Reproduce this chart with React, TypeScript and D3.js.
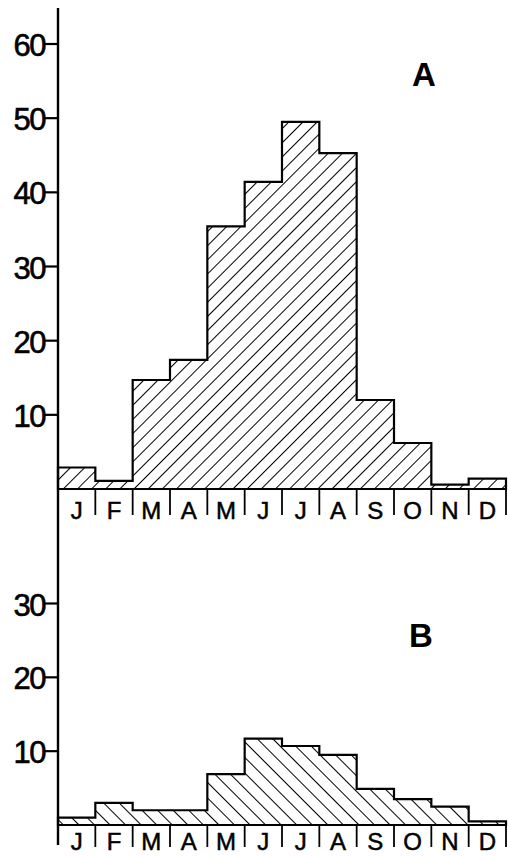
import React from "react";
import * as d3 from "d3";

const months = ["J", "F", "M", "A", "M", "J", "J", "A", "S", "O", "N", "D"];
const valuesA = [2.9, 1.1, 14.7, 17.4, 35.4, 41.4, 49.5, 45.3, 12.0, 6.2, 0.6, 1.4];
const valuesB = [1.0, 3.0, 2.0, 2.0, 6.9, 11.7, 10.7, 9.5, 4.9, 3.5, 2.5, 0.5];
const ticksA = [10, 20, 30, 40, 50, 60];
const ticksB = [10, 20, 30];

const W = 508;
const H = 857;
const X0 = 58;
const X1 = 506;
const FONT = "'Liberation Sans', Arial, Helvetica, sans-serif";

type PanelProps = {
  values: number[];
  ticks: number[];
  domainMax: number;
  yBase: number;
  yTop: number;
  pattern: string;
  label: string;
  labelX: number;
  labelY: number;
  monthDy: number;
  sepLen: number;
};

function Panel({ values, ticks, domainMax, yBase, yTop, pattern, label, labelX, labelY, monthDy, sepLen }: PanelProps) {
  const idx = months.map((_, i) => i);
  const x = d3.scaleBand<number>().domain(idx).range([X0, X1]).padding(0);
  const y = d3.scaleLinear().domain([0, domainMax]).range([yBase, yTop]);
  const bw = x.bandwidth();

  const p = d3.path();
  p.moveTo(X0, y(0));
  values.forEach((v, i) => {
    const xl = x(i) as number;
    p.lineTo(xl, y(v));
    p.lineTo(xl + bw, y(v));
  });
  p.lineTo(X1, y(0));
  p.closePath();

  return (
    <g>
      <path d={p.toString()} fill={`url(#${pattern})`} stroke="#000" strokeWidth={2.2} strokeLinejoin="miter" />
      <line x1={X0} x2={X1} y1={y(0)} y2={y(0)} stroke="#000" strokeWidth={2.2} />
      {idx.map((i) => (
        <line key={"sep" + i} x1={(x(i) as number) + bw} x2={(x(i) as number) + bw} y1={y(0)} y2={y(0) + sepLen} stroke="#000" strokeWidth={1.8} />
      ))}
      {months.map((m, i) => (
        <text key={"m" + i} x={(x(i) as number) + bw / 2} y={y(0) + monthDy} textAnchor="middle" fontFamily={FONT} fontSize={24} fill="#000" stroke="#000" strokeWidth={0.5}>
          {m}
        </text>
      ))}
      {ticks.map((t) => (
        <g key={"t" + t}>
          <line x1={X0 - 14} x2={X0} y1={y(t)} y2={y(t)} stroke="#000" strokeWidth={2.2} />
          <text x={X0 - 13} y={y(t) + 12} textAnchor="end" fontFamily={FONT} fontSize={31} fill="#000" stroke="#000" strokeWidth={0.6} letterSpacing={-1.5}>
            {t}
          </text>
        </g>
      ))}
      <text x={labelX} y={labelY} textAnchor="middle" fontFamily={FONT} fontWeight="bold" fontSize={33} fill="#000">
        {label}
      </text>
    </g>
  );
}

export default function App() {
  return (
    <svg width={W} height={H} style={{ position: "absolute", left: 0, top: 0, background: "#fff" }}>
      <defs>
        <pattern id="hatchA" patternUnits="userSpaceOnUse" width={10} height={10} patternTransform="rotate(45)">
          <line x1={0} y1={0} x2={0} y2={10} stroke="#000" strokeWidth={2} />
        </pattern>
        <pattern id="hatchB" patternUnits="userSpaceOnUse" width={11} height={11} patternTransform="rotate(-45)">
          <line x1={0} y1={0} x2={0} y2={11} stroke="#000" strokeWidth={2} />
        </pattern>
      </defs>
      <rect x={0} y={0} width={W} height={H} fill="#fff" />
      <line x1={X0} x2={X0} y1={8} y2={845} stroke="#000" strokeWidth={2.4} />
      <Panel values={valuesA} ticks={ticksA} domainMax={60} yBase={489} yTop={44} pattern="hatchA" label="A" labelX={424} labelY={86} monthDy={30} sepLen={26} />
      <Panel values={valuesB} ticks={ticksB} domainMax={30} yBase={825} yTop={603.5} pattern="hatchB" label="B" labelX={421} labelY={647} monthDy={25} sepLen={22} />
    </svg>
  );
}
